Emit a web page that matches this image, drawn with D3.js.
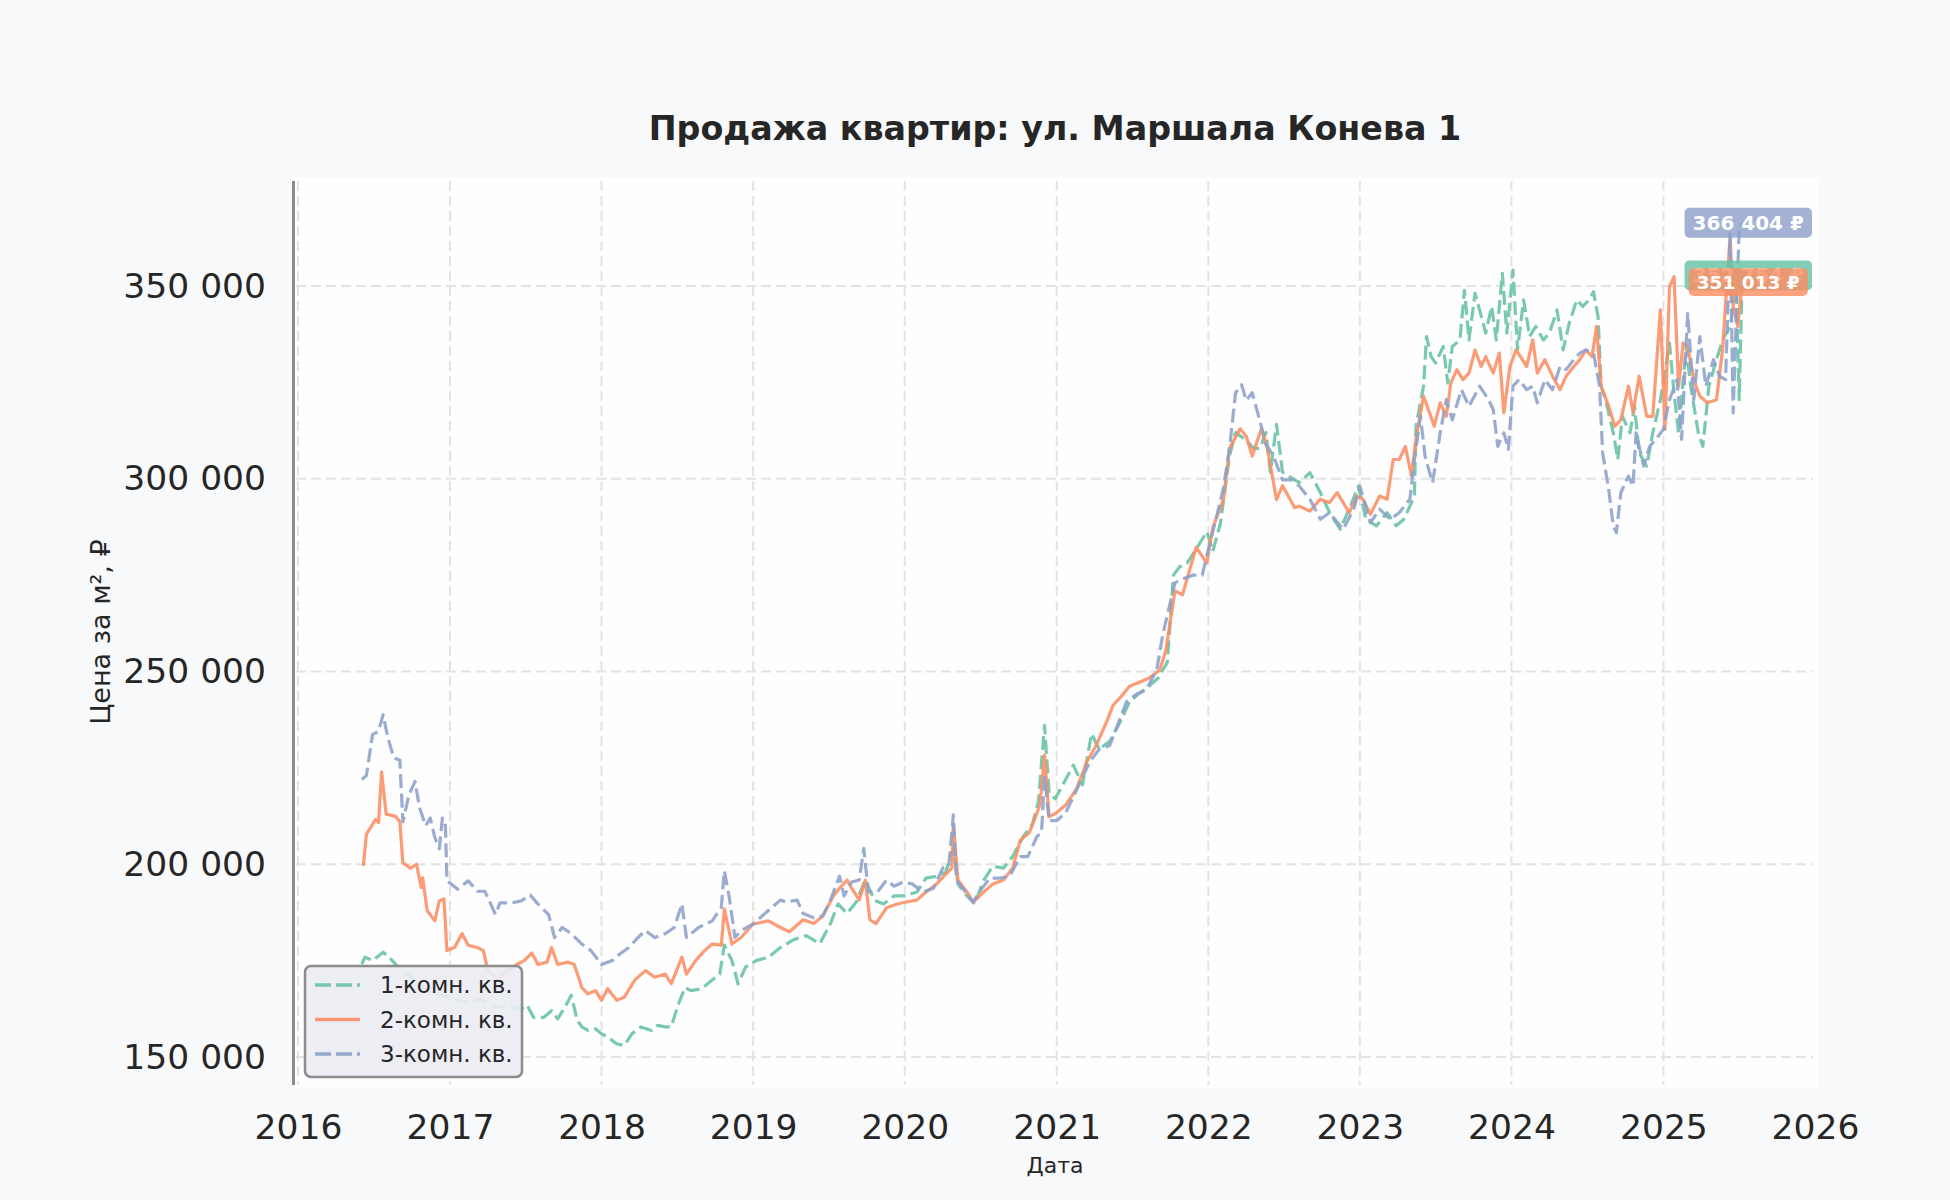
<!DOCTYPE html>
<html>
<head>
<meta charset="utf-8">
<script src="https://cdn.jsdelivr.net/npm/d3@7"></script>
<style>
  html, body { margin: 0; padding: 0; background: #f8f9fa; }
  svg { display: block; font-family: "DejaVu Sans", sans-serif; }
</style>
</head>
<body>
<svg id="chart" width="1950" height="1200"></svg>
<script>
// ---------- DATA (decimal year, price per m², ₽) ----------
const title = "Продажа квартир: ул. Маршала Конева 1";
const yLabel = "Цена за м², ₽";
const xLabel = "Дата";
const seriesNames = ["1-комн. кв.", "2-комн. кв.", "3-комн. кв."];
const yTicks = [150000, 200000, 250000, 300000, 350000];
const xTickYears = [2016, 2017, 2018, 2019, 2020, 2021, 2022, 2023, 2024, 2025, 2026];

const oneRoom = [
[2016.42,174100],[2016.44,175900],[2016.49,175000],[2016.56,177200],[2016.60,175900],[2016.65,173700],
[2016.70,172000],[2016.77,170000],[2016.86,167000],[2016.95,166000],[2017.03,165000],[2017.12,164000],
[2017.20,165000],[2017.30,163000],[2017.39,163000],[2017.47,162500],[2017.51,163400],[2017.55,160300],
[2017.62,160300],[2017.67,162000],[2017.71,159900],[2017.76,163000],[2017.80,166000],[2017.84,159500],
[2017.87,157800],[2017.91,156900],[2017.96,157300],[2018.00,156000],[2018.04,155200],[2018.10,153400],
[2018.15,153000],[2018.20,156000],[2018.26,157800],[2018.33,156900],[2018.37,158200],[2018.42,157800],
[2018.46,157800],[2018.50,163000],[2018.55,168000],[2018.59,167200],[2018.66,167700],[2018.73,170000],
[2018.78,171500],[2018.81,179000],[2018.86,175000],[2018.90,169000],[2018.95,173300],[2019.02,175000],
[2019.10,175900],[2019.18,178400],[2019.27,180500],[2019.35,181500],[2019.44,179400],[2019.51,184600],
[2019.56,189700],[2019.62,187200],[2019.68,190200],[2019.74,195900],[2019.80,190700],[2019.86,189700],
[2019.93,191800],[2020.00,191800],[2020.08,192800],[2020.14,196400],[2020.21,196900],[2020.27,197900],
[2020.32,204100],[2020.35,194900],[2020.41,191800],[2020.46,189700],[2020.52,195900],[2020.58,199500],
[2020.65,199000],[2020.71,202000],[2020.78,207200],[2020.84,210300],[2020.88,216400],[2020.92,236000],
[2020.95,218500],[2020.99,217000],[2021.04,220600],[2021.11,225700],[2021.17,220600],[2021.23,233900],
[2021.28,229800],[2021.35,231900],[2021.42,237000],[2021.48,242100],[2021.54,244200],[2021.61,246200],
[2021.67,248300],[2021.73,252400],[2021.77,275000],[2021.81,277100],[2021.86,278100],[2021.92,281700],
[2021.99,286300],[2022.03,281200],[2022.08,288400],[2022.14,305900],[2022.18,312000],[2022.25,310000],
[2022.30,307900],[2022.34,307900],[2022.38,312000],[2022.41,301700],[2022.45,314100],[2022.49,301700],
[2022.57,299700],[2022.60,299000],[2022.67,301600],[2022.74,296400],[2022.80,291200],[2022.87,286900],
[2022.93,292100],[2022.99,298100],[2023.04,289500],[2023.11,287800],[2023.18,291200],[2023.24,287800],
[2023.29,289500],[2023.33,292900],[2023.36,295500],[2023.37,313600],[2023.42,324000],[2023.44,336900],
[2023.47,331700],[2023.50,330000],[2023.55,334300],[2023.58,324800],[2023.61,334300],[2023.66,336000],
[2023.69,348900],[2023.72,336000],[2023.76,348100],[2023.79,343800],[2023.83,337800],[2023.87,344700],
[2023.90,336000],[2023.94,353300],[2023.97,337800],[2024.01,354100],[2024.04,333400],[2024.08,346400],
[2024.12,336900],[2024.16,339500],[2024.21,336000],[2024.25,337800],[2024.30,343800],[2024.34,333400],
[2024.38,340300],[2024.43,346400],[2024.47,344700],[2024.51,346400],[2024.54,348500],[2024.57,342100],
[2024.59,324000],[2024.62,320500],[2024.67,311900],[2024.70,305000],[2024.73,316200],[2024.78,311900],
[2024.81,318800],[2024.84,306700],[2024.89,303300],[2024.93,311900],[2024.98,320500],[2025.01,327400],
[2025.04,335200],[2025.07,322200],[2025.10,311900],[2025.15,334300],[2025.18,324000],[2025.23,311900],
[2025.26,308400],[2025.30,324000],[2025.35,330900],[2025.39,336000],[2025.44,339500],[2025.48,349800],
[2025.50,320500],[2025.52,352754]
];

const twoRoom = [
[2016.43,199600],[2016.45,207800],[2016.51,211600],[2016.53,210800],[2016.55,224000],[2016.58,213000],
[2016.64,212500],[2016.67,211000],[2016.69,200400],[2016.74,199000],[2016.78,200000],[2016.81,194000],
[2016.82,196500],[2016.85,188000],[2016.90,185300],[2016.93,190500],[2016.96,191000],[2016.98,177600],
[2017.03,178400],[2017.08,182000],[2017.12,179000],[2017.18,178400],[2017.22,177600],[2017.25,172400],
[2017.32,170000],[2017.38,172400],[2017.44,174000],[2017.49,175000],[2017.54,177000],[2017.58,174000],
[2017.64,174600],[2017.67,178400],[2017.71,174000],[2017.78,174600],[2017.82,174000],[2017.87,168000],
[2017.91,166400],[2017.96,167200],[2018.00,164700],[2018.04,167700],[2018.10,164700],[2018.15,165500],
[2018.22,170000],[2018.29,172400],[2018.35,170700],[2018.42,171500],[2018.46,169000],[2018.53,175900],
[2018.56,171500],[2018.62,175000],[2018.68,177600],[2018.73,179300],[2018.79,179000],[2018.81,188400],
[2018.86,179300],[2018.92,181000],[2019.00,184500],[2019.10,185300],[2019.18,183600],[2019.24,182500],
[2019.33,185600],[2019.40,184600],[2019.46,186600],[2019.53,191800],[2019.57,193800],[2019.62,195900],
[2019.65,193800],[2019.70,190700],[2019.74,195900],[2019.77,185600],[2019.81,184600],[2019.88,188700],
[2019.95,189700],[2020.01,190200],[2020.08,190700],[2020.14,192800],[2020.21,194900],[2020.27,197400],
[2020.31,199000],[2020.32,210300],[2020.35,195900],[2020.41,192800],[2020.45,190200],[2020.52,192800],
[2020.58,194900],[2020.65,195900],[2020.71,199000],[2020.76,206200],[2020.82,208200],[2020.89,215400],
[2020.92,228300],[2020.95,212300],[2021.00,213400],[2021.06,215400],[2021.13,219500],[2021.20,226700],
[2021.26,230800],[2021.33,237000],[2021.37,241100],[2021.44,244200],[2021.48,246200],[2021.55,247300],
[2021.61,248300],[2021.68,250400],[2021.72,255500],[2021.78,270900],[2021.83,269900],[2021.92,282200],
[2021.99,278100],[2022.03,287400],[2022.10,294600],[2022.14,307900],[2022.21,313000],[2022.25,311000],
[2022.29,305900],[2022.35,313000],[2022.39,307900],[2022.45,294600],[2022.49,298200],[2022.57,292500],
[2022.60,292900],[2022.67,291600],[2022.74,294700],[2022.80,293800],[2022.85,296400],[2022.89,293800],
[2022.93,291200],[2022.98,295500],[2023.02,294700],[2023.07,290800],[2023.13,295500],[2023.18,294700],
[2023.22,305000],[2023.26,305000],[2023.30,308400],[2023.34,300700],[2023.37,310200],[2023.42,321400],
[2023.46,317100],[2023.49,313600],[2023.53,319700],[2023.57,316200],[2023.60,324800],[2023.64,328300],
[2023.68,325700],[2023.72,327400],[2023.76,333400],[2023.80,329100],[2023.83,331700],[2023.88,327400],
[2023.92,332600],[2023.95,317100],[2023.99,329100],[2024.03,333400],[2024.06,331700],[2024.10,329100],
[2024.14,336000],[2024.17,327400],[2024.22,330900],[2024.27,326600],[2024.32,323100],[2024.36,326600],
[2024.41,329100],[2024.45,330900],[2024.49,333400],[2024.53,331700],[2024.56,339500],[2024.59,324000],
[2024.64,318800],[2024.68,313600],[2024.72,315300],[2024.77,324000],[2024.80,317100],[2024.84,326600],
[2024.89,316200],[2024.93,316200],[2024.98,343800],[2025.01,312800],[2025.04,349800],[2025.07,352400],
[2025.10,324000],[2025.13,335200],[2025.16,334300],[2025.20,325700],[2025.24,321400],[2025.29,319700],
[2025.35,320500],[2025.39,333400],[2025.44,362800],[2025.46,344700],[2025.49,339500],[2025.52,351013]
];

const threeRoom = [
[2016.42,222000],[2016.45,223000],[2016.49,233600],[2016.53,234500],[2016.56,238800],[2016.59,233000],
[2016.63,227600],[2016.67,227000],[2016.69,211000],[2016.73,218000],[2016.77,221500],[2016.80,214600],
[2016.84,210000],[2016.87,212000],[2016.90,207000],[2016.93,204000],[2016.95,212000],[2016.97,210000],
[2016.98,195700],[2017.01,194800],[2017.05,193500],[2017.12,195700],[2017.18,193000],[2017.23,193000],
[2017.30,187000],[2017.33,190000],[2017.41,190000],[2017.47,190500],[2017.53,192000],[2017.58,189700],
[2017.65,187000],[2017.69,181000],[2017.74,183600],[2017.80,182000],[2017.87,179300],[2017.93,177600],
[2018.00,174000],[2018.07,175000],[2018.12,176700],[2018.18,178400],[2018.24,181000],[2018.29,182800],
[2018.35,181000],[2018.42,182000],[2018.48,183600],[2018.53,189700],[2018.56,181000],[2018.64,183600],
[2018.73,185300],[2018.79,188800],[2018.81,198300],[2018.84,192000],[2018.88,181000],[2018.92,182800],
[2019.00,184500],[2019.10,188000],[2019.18,190700],[2019.22,190200],[2019.29,190700],[2019.33,187200],
[2019.40,186100],[2019.46,186600],[2019.51,190700],[2019.57,196900],[2019.60,191800],[2019.65,195400],
[2019.70,195900],[2019.73,204100],[2019.76,192800],[2019.82,192800],[2019.88,195900],[2019.93,194300],
[2019.99,195400],[2020.05,194900],[2020.12,192800],[2020.19,193800],[2020.25,199000],[2020.29,199500],
[2020.32,212800],[2020.34,195900],[2020.40,192800],[2020.45,190200],[2020.49,192800],[2020.56,196400],
[2020.63,196400],[2020.69,196900],[2020.76,202000],[2020.81,202000],[2020.87,207200],[2020.90,208200],
[2020.92,222600],[2020.95,211300],[2021.00,211300],[2021.06,213400],[2021.11,217500],[2021.17,222600],
[2021.22,226700],[2021.28,229800],[2021.35,230800],[2021.39,234900],[2021.46,242100],[2021.53,244200],
[2021.59,245200],[2021.66,250400],[2021.70,259600],[2021.78,273000],[2021.83,274000],[2021.90,275000],
[2021.96,275000],[2022.01,283200],[2022.05,289400],[2022.10,297600],[2022.14,307900],[2022.18,322300],
[2022.22,324400],[2022.25,320300],[2022.29,322300],[2022.34,315100],[2022.38,308900],[2022.43,305900],
[2022.49,299700],[2022.56,299700],[2022.60,298100],[2022.67,294700],[2022.74,289500],[2022.80,291200],
[2022.89,286900],[2022.96,292100],[2023.00,298100],[2023.07,288600],[2023.13,292100],[2023.20,289500],
[2023.26,291200],[2023.33,294700],[2023.36,305000],[2023.40,316200],[2023.43,305900],[2023.46,301600],
[2023.48,299000],[2023.53,311900],[2023.57,320500],[2023.61,315300],[2023.67,323100],[2023.72,318800],
[2023.79,324000],[2023.85,320500],[2023.88,317900],[2023.91,308400],[2023.95,311900],[2023.98,307600],
[2024.01,324000],[2024.05,325700],[2024.10,323100],[2024.14,324000],[2024.17,319700],[2024.22,325700],
[2024.27,323100],[2024.32,329100],[2024.36,328300],[2024.41,330900],[2024.45,332600],[2024.49,333400],
[2024.54,332600],[2024.58,324000],[2024.60,306700],[2024.64,297200],[2024.67,287800],[2024.69,286000],
[2024.72,296400],[2024.77,300700],[2024.80,298100],[2024.82,311900],[2024.87,303300],[2024.91,308400],
[2024.95,310200],[2025.00,312800],[2025.04,320500],[2025.09,325700],[2025.12,310200],[2025.16,342900],
[2025.20,320500],[2025.24,336900],[2025.28,324000],[2025.33,330900],[2025.37,326600],[2025.41,325700],
[2025.44,363600],[2025.46,317100],[2025.50,365300],[2025.52,366404]
];

const seriesColors = ["#66c2a5", "#fc8d62", "#8da0cb"];

// ---------- CHART ----------
const svg = d3.select("#chart");
const W = 1950, H = 1200;
const plot = { left: 296, right: 1815, top: 181, bottom: 1085 };

function yearToDate(t) {
  const y = Math.floor(t);
  const a = new Date(y, 0, 1), b = new Date(y + 1, 0, 1);
  return new Date(+a + (t - y) * (b - a));
}

const x = d3.scaleTime()
  .domain([new Date(2016, 0, 1), new Date(2026, 0, 1)])
  .range([298, 1815]);
const y = d3.scaleLinear()
  .domain([150000, 350000])
  .range([1057, 286]);

svg.append("rect").attr("x", 0).attr("y", 0).attr("width", W).attr("height", H).attr("fill", "#f8f9fa");
svg.append("rect").attr("x", 295).attr("y", 178).attr("width", 1819 - 295).attr("height", 1088 - 178).attr("fill", "#fefefe");

const fmt = v => d3.format(",")(v).replace(/,/g, " ");

// grid
const grid = svg.append("g");
grid.selectAll("line.h").data(yTicks).join("line")
  .attr("x1", plot.left).attr("x2", plot.right - 2)
  .attr("y1", d => y(d)).attr("y2", d => y(d))
  .attr("stroke", "#e3e3e3").attr("stroke-width", 2).attr("stroke-dasharray", "10,5");
grid.selectAll("line.v").data(xTickYears.filter(d => x(new Date(d, 0, 1)) < plot.right - 3)).join("line")
  .attr("x1", d => x(new Date(d, 0, 1))).attr("x2", d => x(new Date(d, 0, 1)))
  .attr("y1", plot.top).attr("y2", plot.bottom)
  .attr("stroke", "#e3e3e3").attr("stroke-width", 2).attr("stroke-dasharray", "10,5");

// axes (library axes, styled)
const yAxis = svg.append("g").attr("transform", `translate(${plot.left - 2},0)`)
  .call(d3.axisLeft(y).tickValues(yTicks).tickFormat(fmt).tickSize(0).tickPadding(28));
yAxis.select(".domain").remove();
yAxis.selectAll("text").attr("font-size", 34.5).attr("fill", "#262626").attr("font-family", "DejaVu Sans");

const xAxis = svg.append("g").attr("transform", `translate(0,${plot.bottom})`)
  .call(d3.axisBottom(x).tickValues(xTickYears.map(d => new Date(d, 0, 1))).tickFormat(d3.timeFormat("%Y")).tickSize(0).tickPadding(30));
xAxis.select(".domain").remove();
xAxis.selectAll("text").attr("font-size", 34.5).attr("fill", "#262626").attr("font-family", "DejaVu Sans");

// left spine
svg.append("line").attr("x1", 293.5).attr("x2", 293.5).attr("y1", plot.top).attr("y2", plot.bottom)
  .attr("stroke", "#8a8a8a").attr("stroke-width", 3);

// lines
const line = d3.line().x(d => x(yearToDate(d[0]))).y(d => y(d[1]));
const series = [oneRoom, twoRoom, threeRoom];
const dashes = ["14,5.5", null, "14,5.5"];
const linesG = svg.append("g");
series.forEach((s, i) => {
  linesG.append("path").datum(s)
    .attr("d", line)
    .attr("fill", "none")
    .attr("stroke", seriesColors[i])
    .attr("stroke-opacity", 0.88)
    .attr("stroke-width", 3.2)
    .attr("stroke-linejoin", "round")
    .attr("stroke-dasharray", dashes[i]);
});

// end labels
const labelFont = [20, 18.5, 20];
[0, 1, 2].forEach(i => {
  const s = series[i];
  const last = s[s.length - 1];
  const cx = x(yearToDate(last[0])) + 6;
  const cy = y(last[1]);
  const g = svg.append("g");
  const t = g.append("text")
    .attr("x", cx).attr("y", cy)
    .attr("text-anchor", "middle").attr("dominant-baseline", "central")
    .attr("font-size", labelFont[i]).attr("font-weight", "bold").attr("fill", "#ffffff")
    .text(fmt(last[1]) + " ₽");
  const bb = t.node().getBBox();
  g.insert("rect", "text")
    .attr("x", bb.x - 8).attr("y", cy - (labelFont[i] * 0.75))
    .attr("width", bb.width + 16).attr("height", labelFont[i] * 1.5)
    .attr("rx", 5).attr("fill", seriesColors[i]).attr("fill-opacity", 0.82);
});

// legend
const lg = svg.append("g");
lg.append("rect").attr("x", 305).attr("y", 966).attr("width", 217).attr("height", 111)
  .attr("rx", 6).attr("fill", "#ebebf3").attr("fill-opacity", 0.92)
  .attr("stroke", "#8c8c8c").attr("stroke-width", 2.5);
const rowsY = [985, 1019.5, 1054];
seriesNames.forEach((n, i) => {
  lg.append("line").attr("x1", 315).attr("x2", 360).attr("y1", rowsY[i]).attr("y2", rowsY[i])
    .attr("stroke", seriesColors[i]).attr("stroke-width", 3.6).attr("stroke-opacity", 0.9)
    .attr("stroke-dasharray", i === 1 ? null : "16,5");
  lg.append("text").attr("x", 380).attr("y", rowsY[i]).attr("dominant-baseline", "central")
    .attr("font-size", 23).attr("fill", "#262626").text(n);
});

// titles
svg.append("text").attr("x", 1055).attr("y", 140).attr("text-anchor", "middle")
  .attr("font-size", 33.3).attr("font-weight", "bold").attr("fill", "#262626").text(title);
svg.append("text").attr("x", 1055).attr("y", 1173).attr("text-anchor", "middle")
  .attr("font-size", 22).attr("fill", "#262626").text(xLabel);
svg.append("text").attr("transform", "translate(110,632) rotate(-90)").attr("text-anchor", "middle")
  .attr("font-size", 27).attr("fill", "#262626").text(yLabel);
</script>
</body>
</html>
